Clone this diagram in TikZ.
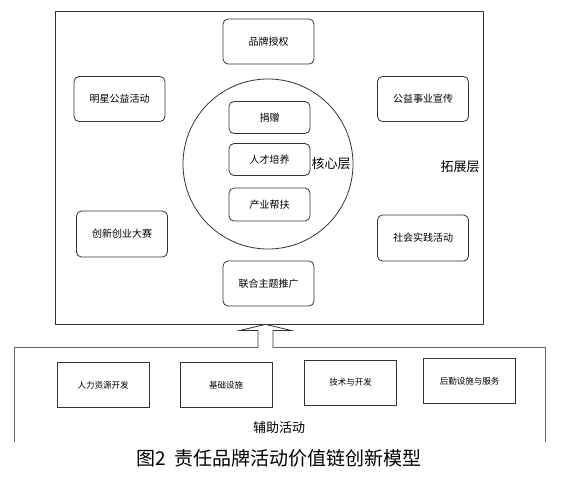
\documentclass[tikz,border=0pt]{standalone}
\usepackage{fontspec}
\setmainfont{Noto Sans CJK SC}
\usetikzlibrary{calc}
\begin{document}
\begin{tikzpicture}[x=1pt,y=-1pt,
  line/.style={draw=black!80, line width=0.8pt},
  rbox/.style={line, rounded corners=5pt, minimum width=91pt, minimum height=45pt, font=\fontsize{10}{12}\selectfont, inner sep=0pt},
  ibox/.style={rbox, minimum width=81pt, minimum height=32pt},
  sbox/.style={line, minimum width=92pt, minimum height=45pt, font=\fontsize{8.5}{10}\selectfont, inner sep=0pt},
  lbl/.style={font=\fontsize{13}{15}\selectfont, inner sep=0pt}]
\useasboundingbox (0,0) rectangle (564,476);
\node[line, minimum width=428pt, minimum height=313pt, inner sep=0pt] (outer) at (269,167.5) {};
\node[line, circle, minimum size=170pt, inner sep=0pt] (core) at (268,164) {};
\node[rbox] (brand) at (268.5,41.5) {品牌授权};
\node[rbox] (star) at (119.5,99) {明星公益活动};
\node[rbox] (pub) at (423,99) {公益事业宣传};
\node[rbox, minimum height=46pt] (inno) at (122,234) {创新创业大赛};
\node[rbox, minimum height=46pt] (social) at (423,238) {社会实践活动};
\node[rbox] (joint) at (268.5,283.5) {联合主题推广};
\node[ibox] (donate) at (269.5,117.5) {捐赠};
\node[ibox] (talent) at (269.5,159.5) {人才培养};
\node[ibox, minimum height=33pt] (industry) at (269.5,204.5) {产业帮扶};
\node[lbl] (corelbl) at (331,164) {核心层};
\node[lbl] (extlbl) at (460,167) {拓展层};
\node[minimum width=530pt, minimum height=94pt, inner sep=0pt] (aux) at (280,395) {};
\draw[draw=black!60, line width=1.3pt] (aux.south west) -- (aux.north west) -- (aux.north east) -- (aux.south east);
\node[sbox] (hr) at (103,385) {人力资源开发};
\node[sbox] (infra) at (226,385) {基础设施};
\node[sbox] (tech) at (350.5,382.5) {技术与开发};
\node[sbox] (logi) at (469.5,381) {后勤设施与服务};
\node[lbl] (auxlbl) at (279,428) {辅助活动};
\node[font=\fontsize{19}{21}\selectfont, inner sep=0pt] (cap) at (279,458) {图2\hspace{0.4em}责任品牌活动价值链创新模型};
\coordinate (atail) at (aux.north -| 265.5,0);
\coordinate (ahead) at (outer.south -| 265.5,0);
\draw[line, fill=white] ($(atail)+(-7.5,0)$) -- ($(ahead)+(-7.5,6)$) -- ($(ahead)+(-25.5,6)$) -- (ahead) -- ($(ahead)+(25.5,6)$) -- ($(ahead)+(7.5,6)$) -- ($(atail)+(7.5,0)$);
\end{tikzpicture}
\end{document}
